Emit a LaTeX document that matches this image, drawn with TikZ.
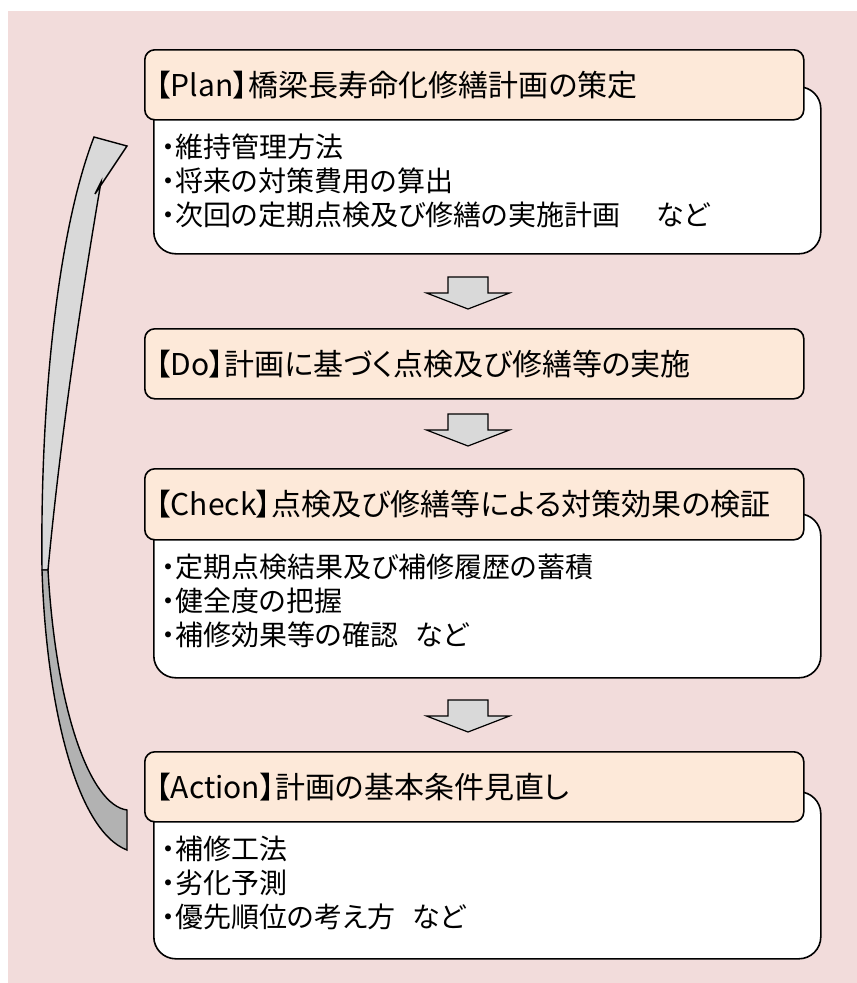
\documentclass[tikz,border=0pt]{standalone}
\usepackage{fontspec}
\setmainfont[RawFeature=+palt]{Noto Sans CJK JP}
\definecolor{pinkback}{HTML}{F2DCDB}
\definecolor{headfill}{HTML}{FDE9D9}
\definecolor{arrowlight}{HTML}{D9D9D9}
\definecolor{arrowdark}{HTML}{B2B2B2}

\tikzset{
  headbox/.style={draw, line width=1.6pt, fill=headfill, rounded corners=10pt,
    anchor=north west, minimum height=70pt, text width=637pt, inner xsep=11pt,
    align=left, font=\fontsize{30}{32}\selectfont},
  bodybox/.style={draw, line width=1.6pt, fill=white, rounded corners=22pt,
    anchor=north west, minimum width=667pt},
  listtext/.style={anchor=north west, inner sep=0pt, align=left,
    font=\fontsize{28}{34}\selectfont},
  blockarrow/.style={draw, line width=1.2pt, fill=arrowlight},
  downblock/.pic={\draw[blockarrow] (-20,-16) -- (20,-16) -- (20,0) -- (41.5,0)
    -- (0,16) -- (-41.5,0) -- (-20,0) -- cycle;}
}

\begin{document}
\begin{tikzpicture}[x=1pt, y=-1pt]
\useasboundingbox (0,0) rectangle (857,983);
\fill[pinkback] (8,11) rectangle (857,983);

% Plan
\node[bodybox, minimum height=167pt] (planbody) at (153,86) {};
\node[headbox] (planhead) at (144,49) {【Plan】橋梁長寿命化修繕計画の策定};
\node[listtext] (planlist) at (161,134) {・維持管理方法\\・将来の対策費用の算出\\・次回の定期点検及び修繕の実施計画　\hspace{.3em}など};

% Do
\node[headbox] (dohead) at (144,328) {【Do】計画に基づく点検及び修繕等の実施};

% Check
\node[bodybox, minimum height=164pt] (checkbody) at (153,513) {};
\node[headbox, minimum height=71pt] (checkhead) at (144,468) {【Check】点検及び修繕等による対策効果の検証};
\node[listtext] (checklist) at (161,554) {・定期点検結果及び補修履歴の蓄積\\・健全度の把握\\・補修効果等の確認\hspace{.6em}など};

% Action
\node[bodybox, minimum height=167pt] (actbody) at (153,791) {};
\node[headbox] (acthead) at (144,751) {【Action】計画の基本条件見直し};
\node[listtext] (actlist) at (161,836) {・補修工法\\・劣化予測\\・優先順位の考え方\hspace{.6em}など};

% down arrows
\coordinate (arr1) at (468,293);
\coordinate (arr2) at (468,430);
\coordinate (arr3) at (468,716);
\pic at (arr1) {downblock};
\pic at (arr2) {downblock};
\pic at (arr3) {downblock};

% curved return arrow
\fill[arrowlight, draw=black, line width=1.4pt] (94,137) .. controls (58,230) and (40,400) .. (42,570)
  -- (48,570) .. controls (62,420) and (86,270) .. (101,182) -- (95,194) -- (127,146) -- cycle;
\fill[arrowdark, draw=black, line width=1.4pt] (42,570) .. controls (46,700) and (75,830) .. (127,850)
  -- (127,810) .. controls (90,805) and (56,710) .. (48,570) -- cycle;
\end{tikzpicture}
\end{document}
